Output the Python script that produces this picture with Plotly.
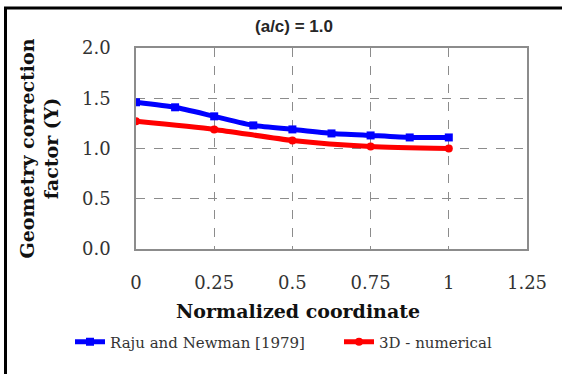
import plotly.graph_objects as go

# Data
x_raju = [0, 0.125, 0.25, 0.375, 0.5, 0.625, 0.75, 0.875, 1.0]
y_raju = [1.46, 1.41, 1.32, 1.23, 1.19, 1.15, 1.13, 1.11, 1.11]
x_num = [0, 0.25, 0.5, 0.75, 1.0]
y_num = [1.27, 1.19, 1.08, 1.02, 1.00]
x_ticks = [0, 0.25, 0.5, 0.75, 1, 1.25]
x_ticklabels = ["0", "0.25", "0.5", "0.75", "1", "1.25"]
y_ticks = [0.0, 0.5, 1.0, 1.5, 2.0]

SERIF = "DejaVu Serif"

fig = go.Figure()
fig.add_trace(go.Scatter(
    x=x_raju, y=y_raju, name="Raju and Newman [1979]",
    mode="lines+markers", legend="legend",
    line=dict(color="#0000FF", width=5, shape="spline", smoothing=0.5),
    marker=dict(symbol="square", size=8, color="#0000FF"),
))
fig.add_trace(go.Scatter(
    x=x_num, y=y_num, name="3D - numerical",
    mode="lines+markers", legend="legend2",
    line=dict(color="#FF0000", width=5, shape="spline", smoothing=0.6),
    marker=dict(symbol="circle", size=8, color="#FF0000"),
))

PL, PW, PT, PH = 136, 391, 48, 201

def px_x(p):
    return (p - PL) / PW

def px_y(p):
    return (PT + PH - p) / PH

legend_common = dict(orientation="h", xref="paper", xanchor="left",
                     yref="paper", y=px_y(342), yanchor="middle",
                     font=dict(family=SERIF, size=15, color="#333333"),
                     bgcolor="rgba(0,0,0,0)")

fig.update_layout(
    width=562, height=374,
    margin=dict(l=PL, r=562 - PL - PW, t=PT, b=374 - PT - PH, autoexpand=False),
    paper_bgcolor="white", plot_bgcolor="white",
    title=dict(text="<b>(a/c) = 1.0</b>", x=294 / 562, xref="container", xanchor="center",
               y=1 - 26 / 374, yref="container", yanchor="middle",
               font=dict(family="Liberation Sans", size=17, color="#262626")),
    showlegend=True,
    legend=dict(x=px_x(70), **legend_common),
    legend2=dict(x=px_x(339), **legend_common),
    annotations=[dict(text="<b>Normalized coordinate</b>", xref="paper", yref="paper",
                      x=px_x(298), y=px_y(311), xanchor="center", yanchor="middle",
                      showarrow=False, font=dict(family=SERIF, size=19, color="#111111"))],
)

fig.update_xaxes(
    range=[0, 1.25], tickvals=x_ticks, ticktext=x_ticklabels,
    showgrid=True, gridcolor="#8c8c8c", griddash="dash", gridwidth=1,
    showline=True, linecolor="#8c8c8c", linewidth=1.5, mirror=True,
    zeroline=False, ticks="", ticklabelstandoff=17, automargin=False,
    tickfont=dict(family=SERIF, size=18, color="#333333"),
)
fig.update_yaxes(
    range=[0, 2.0], tickvals=y_ticks, tickformat=".1f",
    showgrid=True, gridcolor="#8c8c8c", griddash="dash", gridwidth=1,
    showline=True, linecolor="#8c8c8c", linewidth=1.5, mirror=True,
    zeroline=False, ticks="", ticklabelstandoff=20, automargin=False,
    tickfont=dict(family=SERIF, size=18, color="#333333"),
    title=dict(text="<b>Geometry correction<br>factor (Y)</b>", standoff=18,
               font=dict(family=SERIF, size=19, color="#111111")),
)

# Outer chart frame (left and top edges visible)
fig.add_shape(type="rect", xref="paper", yref="paper",
              x0=px_x(5.5), x1=1.3, y0=-0.8, y1=px_y(8),
              line=dict(color="black", width=3), layer="above")

fig.write_html("out.html")
